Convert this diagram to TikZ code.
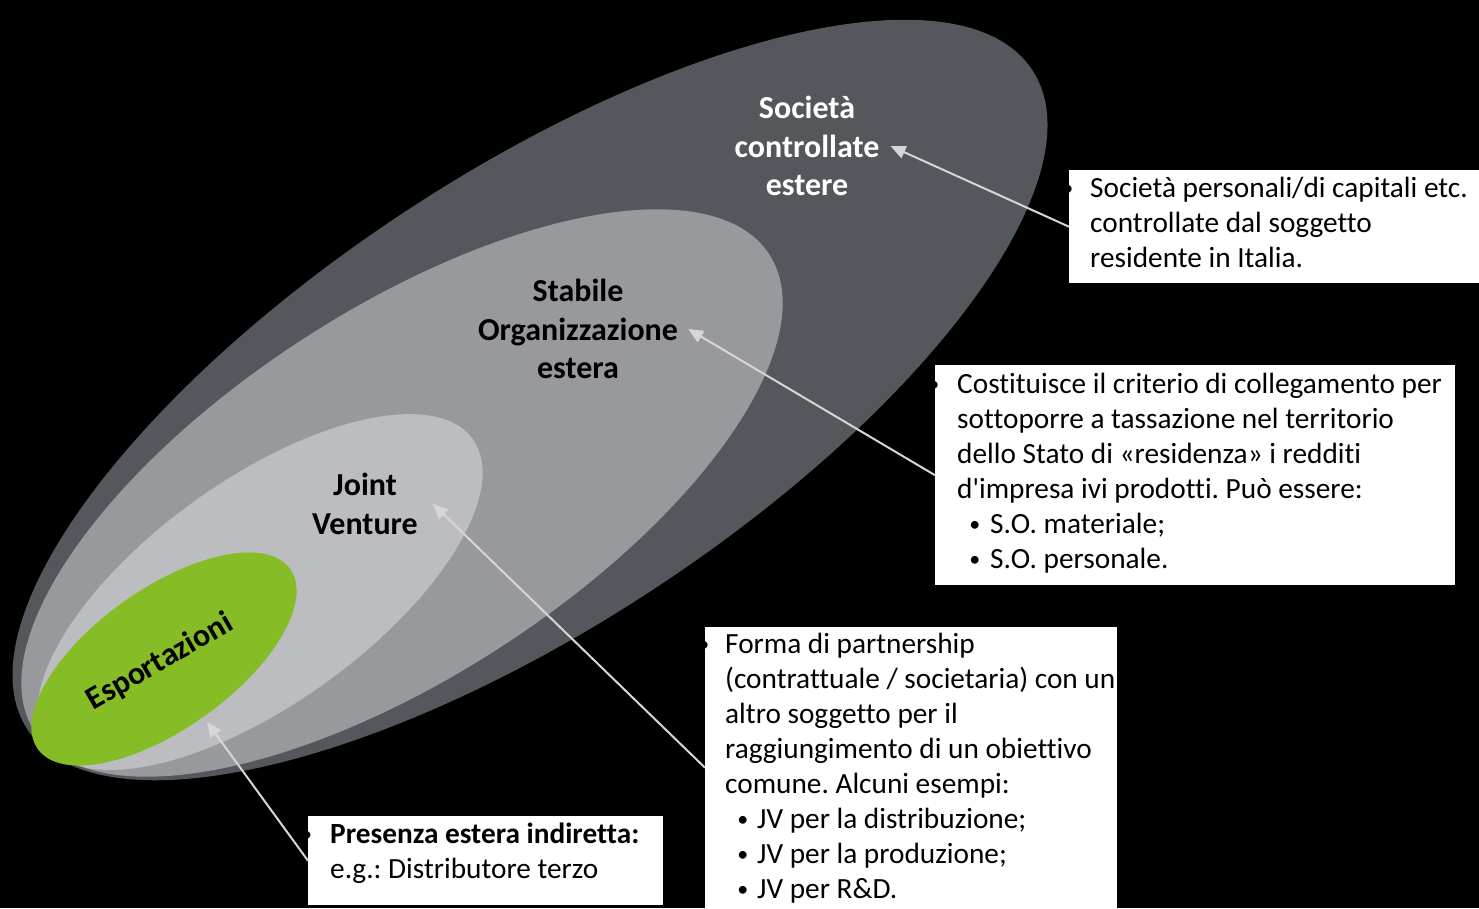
\documentclass[tikz,border=0pt]{standalone}
\usepackage{fontspec}
\setmainfont{Carlito}[Ligatures={CommonOff,TeXOff}]
\usetikzlibrary{arrows.meta}
\definecolor{cdark}{HTML}{54575C}
\definecolor{cmid}{HTML}{97999D}
\definecolor{clight}{HTML}{BCBDC1}
\definecolor{cgreen}{HTML}{86BC25}
\definecolor{carrow}{HTML}{D6D6D6}
\newcommand{\bul}{\raisebox{1.5pt}{\fontsize{22}{22}\selectfont •}}
\begin{document}
\begin{tikzpicture}[x=1pt,y=-1pt,
  conn/.style={draw=carrow, line width=2pt, -{Triangle[length=15pt,width=13pt]}},
  box/.style={fill=white, draw=none, inner sep=0pt, anchor=north west},
  txt/.style={align=left, inner sep=0pt, anchor=base west, text=black, font=\frenchspacing\fontsize{29.3}{35}\selectfont},
  lbl/.style={align=center, inner ysep=0pt, font=\bfseries\fontsize{32}{38.5}\selectfont}]
\fill[black] (0,0) rectangle (1479,908);
\useasboundingbox (0,0) rectangle (1479,908);
% nested shapes
\fill[cdark, rotate around={33.3:(530,400)}] (530,400) ellipse [x radius=601, y radius=226];
\fill[cmid, rotate around={33.0:(402,493)}] (402,493) ellipse [x radius=438, y radius=183];
\fill[clight, rotate around={35.7:(260,592)}] (260,592) ellipse [x radius=262, y radius=112];
\fill[cgreen, rotate around={35.5:(164,659)}] (164,659) ellipse [x radius=155, y radius=70];
% labels
\node[lbl, text=white, inner xsep=11pt] (l1) at (807,146) {Società\\controllate\\estere};
\node[lbl, text=black, inner xsep=10pt] (l2) at (578,329) {Stabile\\Organizzazione\\estera};
\node[lbl, text=black, inner xsep=15pt] (l3) at (365,504) {Joint\\Venture};
\node[lbl, text=black, rotate=30] (l4) at (160,662) {Esportazioni};
\coordinate (espEdge) at (207,722);
% boxes
\node[box, minimum width=410pt, minimum height=113pt] (b1) at (1069,170) {};
\node[box, minimum width=520pt, minimum height=220pt] (b2) at (935,365) {};
\node[box, minimum width=412pt, minimum height=281pt] (b3) at (705,627) {};
\node[box, minimum width=355pt, minimum height=89pt] (b4) at (308,816) {};
% connectors
\draw[conn] (b1.west) -- (l1.east);
\draw[conn] (b2.west) -- (l2.east);
\draw[conn] (b3.west) -- (l3.east);
\draw[conn] (b4.west) -- (espEdge);
% box texts (anchored at the baseline of the last line)
\node[txt] (t1) at (1090,267) {\llap{\bul\hskip 17pt}Società personali/di capitali etc.\\controllate dal soggetto\\residente in Italia.};
\node[txt] (t2) at (957,568) {\llap{\bul\hskip 18pt}Costituisce il criterio di collegamento per\\sottoporre a tassazione nel territorio\\dello Stato di «residenza» i redditi\\d'impresa ivi prodotti. Può essere:\\\makebox[33pt][r]{\bul\hskip 10pt}S.O. materiale;\\\makebox[33pt][r]{\bul\hskip 10pt}S.O. personale.};
\node[txt] (t3) at (725,898) {\llap{\bul\hskip 16pt}Forma di partnership\\(contrattuale / societaria) con un\\altro soggetto per il\\raggiungimento di un obiettivo\\comune. Alcuni esempi:\\\makebox[32pt][r]{\bul\hskip 9pt}JV per la distribuzione;\\\makebox[32pt][r]{\bul\hskip 9pt}JV per la produzione;\\\makebox[32pt][r]{\bul\hskip 9pt}JV per R\&D.};
\node[txt] (t4) at (330,878) {\llap{\bul\hskip 18pt}\textbf{Presenza estera indiretta:}\\e.g.: Distributore terzo};
\end{tikzpicture}
\end{document}
